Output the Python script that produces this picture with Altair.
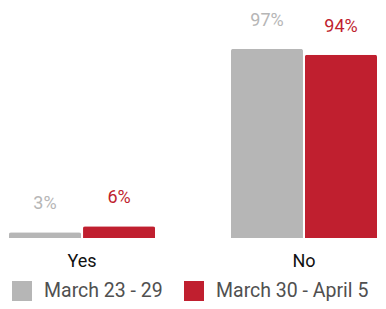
import altair as alt
import pandas as pd

categories = ["Yes", "No"]
series = ["March 23 - 29", "March 30 - April 5"]
values_a = [3, 97]
values_b = [6, 94]
colors = ["#b6b6b6", "#c01f2f"]

rows = []
for i, c in enumerate(categories):
    rows.append({"answer": c, "period": series[0], "value": values_a[i], "label": f"{values_a[i]}%"})
    rows.append({"answer": c, "period": series[1], "value": values_b[i], "label": f"{values_b[i]}%"})
df = pd.DataFrame(rows)

FONT = "Roboto"

x = alt.X("answer:N", sort=categories, title=None,
          scale=alt.Scale(paddingInner=0.342, paddingOuter=0),
          axis=alt.Axis(labelAngle=0, labelFontSize=18, labelColor="#111111", labelFont=FONT,
                        ticks=False, domain=False, labelPadding=14))
xo = alt.XOffset("period:N", sort=series, scale=alt.Scale(paddingInner=0.027, paddingOuter=0))
y = alt.Y("value:Q", scale=alt.Scale(domain=[0, 118], nice=False), axis=None)
color = alt.Color("period:N", sort=series,
                  scale=alt.Scale(domain=series, range=colors),
                  legend=alt.Legend(title=None, orient="none", legendX=3, legendY=273,
                                    direction="horizontal", symbolType="square", symbolSize=400,
                                    symbolStrokeWidth=0, symbolOpacity=1,
                                    labelFontSize=19.5, labelFont=FONT, labelColor="#505050",
                                    labelOffset=12, columnPadding=21, labelLimit=0))

bars = alt.Chart(df).mark_bar(cornerRadiusTopLeft=2, cornerRadiusTopRight=2).encode(
    x=x, xOffset=xo, y=y, color=color)

text = alt.Chart(df).mark_text(dy=-23, baseline="alphabetic", fontSize=18, font=FONT).encode(
    x=x, xOffset=xo, y=y, text="label:N",
    color=alt.Color("period:N", sort=series, scale=alt.Scale(domain=series, range=colors), legend=None))

chart = (bars + text).properties(
    width=368, height=230,
    autosize=alt.AutoSizeParams(type="none"),
    padding={"left": 1, "top": 0, "right": 1, "bottom": 63},
).configure_view(stroke=None)

chart.save("out.html", embed_options={"renderer": "svg", "actions": False})
